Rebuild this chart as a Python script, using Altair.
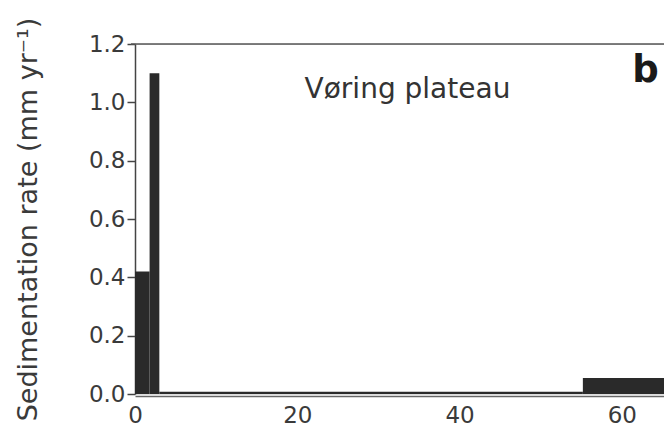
import altair as alt
import pandas as pd

# Step bars: age interval (kyr) and sedimentation rate
starts = [0.0, 1.8, 3.0, 55.2]
ends = [1.8, 3.0, 55.2, 66.0]
rates = [0.42, 1.10, 0.008, 0.055]

x_ticks = [0, 20, 40, 60]
y_ticks = [round(i * 0.1, 1) for i in range(13)]

FONT = "DejaVu Sans"

df = pd.DataFrame({"start": starts, "end": ends, "rate": rates, "base": [0.0] * len(rates)})

xscale = alt.Scale(domain=[0, 65.2], nice=False)
yscale = alt.Scale(domain=[0, 1.2], nice=False)

bars = alt.Chart(df).mark_rect(color="#2a2a2a", clip=True).encode(
    x=alt.X("start:Q", scale=xscale,
            axis=alt.Axis(values=x_ticks, title=None, ticks=False, labelFont=FONT,
                          labelFontSize=23, labelColor="#3a3a3a", domainColor="#666666",
                          domainWidth=1.5, offset=2, labelPadding=8, grid=False,
                          labelFlush=False)),
    x2="end:Q",
    y=alt.Y("base:Q", scale=yscale,
            axis=alt.Axis(values=y_ticks, title="Sedimentation rate (mm yr\u207b\u00b9)",
                          titleFont=FONT, titleFontSize=27, titleFontWeight="normal",
                          titleColor="#3a3a3a", titlePadding=46,
                          labelExpr="round(datum.value*10) % 2 == 0 ? format(datum.value, '.1f') : ''",
                          labelFont=FONT, labelFontSize=23, labelColor="#3a3a3a",
                          labelPadding=2, tickColor="#444444", tickWidth=1.5,
                          tickSize={"condition": {"test": "round(datum.value*10) % 2 == 0", "value": 8}, "value": 4},
                          domainColor="#444444", domainWidth=1.5, grid=False)),
    y2="rate:Q",
)

top = alt.Chart(pd.DataFrame({"y": [1.2]})).mark_rule(color="#555555", strokeWidth=1.5).encode(
    y=alt.Y("y:Q", scale=yscale),
    x=alt.value(-4),
    x2=alt.value(540),
)

labels = pd.DataFrame({"x": [20.9, 61.3], "y": [1.015, 1.07], "t": ["V\u00f8ring plateau", "b"]})
txt1 = alt.Chart(labels.iloc[[0]]).mark_text(font=FONT, fontSize=28, color="#333333",
                                             align="left", baseline="alphabetic").encode(
    x=alt.X("x:Q", scale=xscale), y=alt.Y("y:Q", scale=yscale), text="t:N")
txt2 = alt.Chart(labels.iloc[[1]]).mark_text(font=FONT, fontSize=37, fontWeight="bold", color="#1a1a1a",
                                             align="left", baseline="alphabetic").encode(
    x=alt.X("x:Q", scale=xscale), y=alt.Y("y:Q", scale=yscale), text="t:N")

chart = alt.layer(bars, top, txt1, txt2).properties(
    width=529, height=350,
    autosize=alt.AutoSizeParams(type="none"),
    padding={"left": 135, "top": 44, "right": 0, "bottom": 35},
).configure_view(stroke=None).configure(background="white")

chart.save("out.html", embed_options={"renderer": "svg", "actions": False})
